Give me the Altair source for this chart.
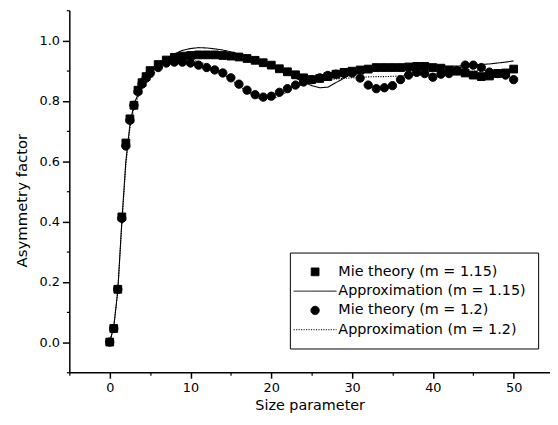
import altair as alt
import pandas as pd

SERIES = ["Mie theory (m = 1.15)", "Approximation (m = 1.15)",
          "Mie theory (m = 1.2)", "Approximation (m = 1.2)"]

# Mie theory, m = 1.15 (squares)
mie115_x = [0, 0.5, 1, 1.5, 2, 2.5, 3, 3.5, 4, 4.5, 5, 6, 7, 8, 9, 10, 11, 12, 13, 14, 15,
            16, 17, 18, 19, 20, 21, 22, 23, 24, 25, 26, 27, 28, 29, 30, 31, 32, 33, 34, 35,
            36, 37, 38, 39, 40, 41, 42, 43, 44, 45, 46, 47, 48, 49, 50]
mie115_g = [0.0, 0.045, 0.175, 0.415, 0.66, 0.74, 0.785, 0.835, 0.86, 0.88, 0.90, 0.92, 0.935,
            0.944, 0.948, 0.95, 0.952, 0.952, 0.952, 0.95, 0.948, 0.945, 0.94, 0.934, 0.926,
            0.918, 0.906, 0.896, 0.886, 0.876, 0.87, 0.874, 0.88, 0.888, 0.894, 0.898, 0.902,
            0.905, 0.91, 0.91, 0.91, 0.91, 0.912, 0.914, 0.914, 0.91, 0.908, 0.902, 0.898,
            0.892, 0.885, 0.88, 0.882, 0.89, 0.892, 0.905]

# Mie theory, m = 1.2 (circles)
mie12_x = [0, 0.5, 1, 1.5, 2, 2.5, 3, 3.5, 4, 4.5, 5, 6, 7, 8, 9, 10, 11, 12, 13, 14, 15,
           16, 17, 18, 19, 20, 21, 22, 23, 24, 25, 26, 27, 28, 29, 30, 31, 32, 33, 34, 35,
           36, 37, 38, 39, 40, 41, 42, 43, 44, 45, 46, 47, 48, 49, 50]
mie12_g = [0.0, 0.045, 0.175, 0.41, 0.65, 0.735, 0.785, 0.83, 0.855, 0.875, 0.89, 0.91, 0.925,
           0.928, 0.928, 0.925, 0.918, 0.91, 0.902, 0.892, 0.876, 0.855, 0.835, 0.82, 0.812,
           0.815, 0.828, 0.84, 0.852, 0.862, 0.87, 0.876, 0.884, 0.888, 0.89, 0.892, 0.875,
           0.852, 0.84, 0.843, 0.85, 0.87, 0.885, 0.894, 0.89, 0.878, 0.888, 0.89, 0.9,
           0.918, 0.918, 0.91, 0.895, 0.89, 0.885, 0.87]

# Approximation, m = 1.15 (solid line)
app115_x = [0, 0.5, 1, 1.5, 2, 2.5, 3, 4, 5, 6, 7, 8, 9, 10, 11, 12, 13, 14, 15, 16, 17, 18,
            19, 20, 21, 22, 23, 24, 25, 26, 27, 28, 29, 30, 31, 32, 33, 35, 38, 40, 43, 45,
            47, 49, 50]
app115_g = [0.0, 0.05, 0.17, 0.40, 0.60, 0.72, 0.79, 0.85, 0.89, 0.92, 0.94, 0.955, 0.967,
            0.973, 0.976, 0.975, 0.972, 0.968, 0.962, 0.955, 0.945, 0.935, 0.925, 0.914,
            0.902, 0.89, 0.875, 0.862, 0.85, 0.843, 0.845, 0.86, 0.875, 0.89, 0.9, 0.905,
            0.908, 0.91, 0.912, 0.913, 0.915, 0.918, 0.922, 0.928, 0.932]

# Approximation, m = 1.2 (dotted line)
app12_x = [0, 0.5, 1, 1.5, 2, 2.5, 3, 4, 5, 6, 7, 8, 9, 10, 11, 12, 13, 14, 15, 16, 17, 18,
           19, 20, 21, 22, 23, 24, 25, 26, 27, 28, 29, 30, 31, 32, 33, 34, 35, 36, 38, 40,
           42, 44, 46, 48, 50]
app12_g = [0.0, 0.05, 0.17, 0.39, 0.59, 0.71, 0.78, 0.845, 0.88, 0.905, 0.92, 0.93, 0.935,
           0.935, 0.93, 0.92, 0.905, 0.89, 0.87, 0.85, 0.83, 0.812, 0.803, 0.805, 0.815,
           0.83, 0.845, 0.855, 0.862, 0.866, 0.869, 0.872, 0.874, 0.876, 0.878, 0.879,
           0.88, 0.88, 0.881, 0.882, 0.885, 0.888, 0.892, 0.896, 0.9, 0.903, 0.905]

x_major = [0, 10, 20, 30, 40, 50]
x_minor = [-5, 5, 15, 25, 35, 45]
y_major = [0.0, 0.2, 0.4, 0.6, 0.8, 1.0]
y_minor = [-0.1, 0.1, 0.3, 0.5, 0.7, 0.9, 1.1]


def frame(xs, gs, name):
    return pd.DataFrame({"x": xs, "g": gs, "series": name})


pts = pd.concat([frame(mie115_x, mie115_g, SERIES[0]),
                 frame(mie12_x, mie12_g, SERIES[2])])
lns = pd.concat([frame(app115_x, app115_g, SERIES[1]),
                 frame(app12_x, app12_g, SERIES[3])])

FONT = "DejaVu Sans"
xscale = alt.Scale(domain=[-5, 54.5], nice=False, zero=False)
yscale = alt.Scale(domain=[-0.1, 1.1], nice=False, zero=False)

SYM = 196  # symbol size: path units are scaled by sqrt(SYM)/2 = 7 px
SQ = "M-0.56,-0.56H0.56V0.56H-0.56Z"
CI = "M0.6,0A0.6,0.6 0 1,1 -0.6,0A0.6,0.6 0 1,1 0.6,0Z"
LN = "M-3.1,0H3.1"

dash_scale = alt.Scale(domain=SERIES, range=[[1, 0], [1, 0], [1, 0], [1.2, 1.3]])
shape_scale = alt.Scale(domain=SERIES, range=[SQ, LN, CI, LN])
fill_scale = alt.Scale(domain=SERIES, range=["black", "black", "black", "black"])

leg = alt.Legend(title=None, orient="none", legendX=223, legendY=245,
                 symbolSize=SYM, symbolStrokeWidth=1,
                 labelFont=FONT, labelFontSize=14.5,
                 labelColor="black", strokeColor="black", fillColor="white",
                 padding=12, rowPadding=4.5, labelOffset=16, symbolOffset=6,
                 labelLimit=400, labelExpr="datum.label + '       '")

x_major_axis = alt.Axis(orient="bottom", values=x_major, title="Size parameter",
                        tickSize=6, labelPadding=3, titlePadding=5, format="d",
                        domainWidth=1.5, tickWidth=1.5, labelFontSize=13,
                        labelOverlap=False,
                        titleFontSize=14.5, titleFontWeight="normal")
y_major_axis = alt.Axis(orient="left", values=y_major, title="Asymmetry factor",
                        tickSize=7, labelPadding=3, titlePadding=10, format=".1f",
                        domainWidth=1.5, tickWidth=1.5, labelFontSize=13,
                        labelOverlap=False,
                        titleFontSize=15, titleFontWeight="normal", titleY=192)
x_minor_axis = alt.Axis(orient="bottom", values=x_minor, title=None, labels=False,
                        domain=False, tickSize=3, tickWidth=1.2)
y_minor_axis = alt.Axis(orient="left", values=y_minor, title=None, labels=False,
                        domain=False, tickSize=3, tickWidth=1.2)

lines = alt.Chart(lns).mark_line(color="black", strokeWidth=1.1).encode(
    x=alt.X("x:Q", scale=xscale, axis=None),
    y=alt.Y("g:Q", scale=yscale, axis=None),
    strokeDash=alt.StrokeDash("series:N", legend=leg, scale=dash_scale),
)

points = alt.Chart(pts).mark_point(filled=False, size=SYM, color="black",
                                   strokeWidth=1, opacity=1).encode(
    x=alt.X("x:Q", scale=xscale, axis=x_major_axis),
    y=alt.Y("g:Q", scale=yscale, axis=y_major_axis),
    shape=alt.Shape("series:N", legend=leg, scale=shape_scale),
    fill=alt.Fill("series:N", legend=leg, scale=fill_scale),
)

minor = alt.Chart(lns).mark_point(opacity=0).encode(
    x=alt.X("x:Q", scale=xscale, axis=x_minor_axis),
    y=alt.Y("g:Q", scale=yscale, axis=y_minor_axis),
)

chart = alt.layer(lines, points, minor).resolve_axis(
    x="independent", y="independent"
).properties(
    width=486, height=366,
    autosize=alt.AutoSizeParams(type="none"),
    padding={"left": 62, "top": 0, "right": 0, "bottom": 44},
).configure_view(stroke=None).configure_axis(
    grid=False, labelFont=FONT, titleFont=FONT, labelColor="black",
    titleColor="black", domainColor="black", tickColor="black",
)

chart.save("out.html", embed_options={"renderer": "svg", "actions": False})
